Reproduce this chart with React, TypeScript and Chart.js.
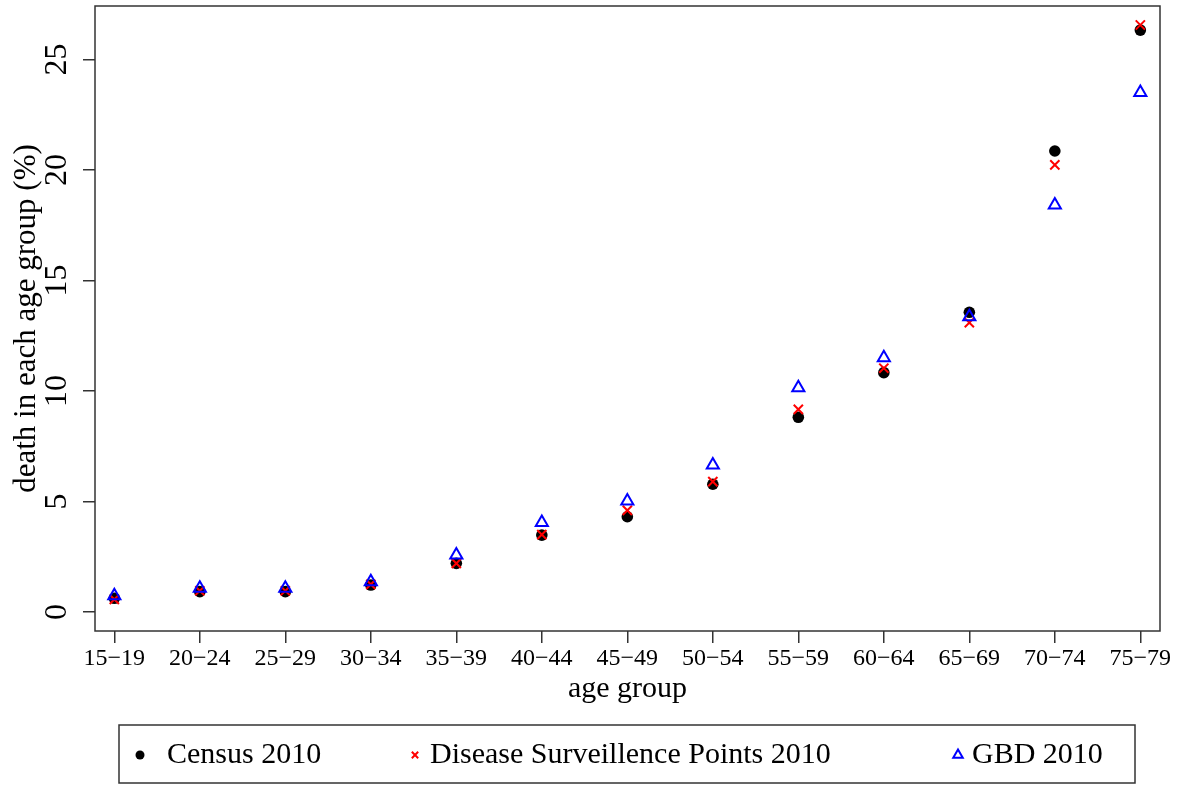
import React, { useEffect, useRef } from "react";
import { Chart, registerables } from "chart.js";
import { drawPoint } from "chart.js/helpers";

Chart.register(...registerables);

const categories = ["15−19", "20−24", "25−29", "30−34", "35−39", "40−44", "45−49", "50−54", "55−59", "60−64", "65−69", "70−74", "75−79"];
const census2010 = [0.62, 0.92, 0.92, 1.22, 2.2, 3.48, 4.31, 5.78, 8.81, 10.83, 13.56, 20.86, 26.33];
const dsp2010 = [0.57, 0.96, 0.96, 1.25, 2.2, 3.5, 4.6, 5.9, 9.17, 11.03, 13.09, 20.23, 26.56];
const gbd2010 = [0.74, 1.07, 1.07, 1.37, 2.58, 4.05, 5.02, 6.65, 10.15, 11.5, 13.36, 18.42, 23.51];
const yTickValues = [0, 5, 10, 15, 20, 25];
const seriesNames = ["Census 2010", "Disease Surveillence Points 2010", "GBD 2010"];
const xTitle = "age group";
const yTitle = "death in each age group (%)";

const FONT = '"Liberation Serif", "Times New Roman", serif';

const frameColor = "#333";

const boxPlugin = {
  id: "rbox",
  afterDraw(chart: any) {
    const { ctx, chartArea } = chart;
    ctx.save();
    ctx.strokeStyle = frameColor;
    ctx.lineWidth = 1.5;
    ctx.strokeRect(chartArea.left, chartArea.top, chartArea.right - chartArea.left, chartArea.bottom - chartArea.top);
    ctx.restore();
  },
};

const legendPlugin = {
  id: "rlegend",
  afterDraw(chart: any) {
    const { ctx } = chart;
    const box = { left: 119, top: 725, right: 1135, bottom: 783 };
    const markerX = [140, 415, 958];
    const textX = [167, 430, 972];
    const markerY = 755;
    const baseY = 763;
    const markerSizes = [4.5, 4.5, 5.5];
    ctx.save();
    ctx.strokeStyle = frameColor;
    ctx.lineWidth = 1.5;
    ctx.strokeRect(box.left, box.top, box.right - box.left, box.bottom - box.top);
    chart.data.datasets.forEach((ds: any) => {
      const k = seriesNames.indexOf(ds.label);
      ctx.save();
      ctx.fillStyle = ds.backgroundColor;
      ctx.strokeStyle = ds.borderColor;
      ctx.lineWidth = ds.borderWidth;
      drawPoint(ctx, { pointStyle: ds.pointStyle, radius: markerSizes[k], borderWidth: ds.borderWidth, rotation: 0 } as any, markerX[k], markerY);
      ctx.restore();
      ctx.fillStyle = "#000";
      ctx.font = `30px ${FONT}`;
      ctx.textBaseline = "alphabetic";
      ctx.textAlign = "left";
      ctx.fillText(ds.label, textX[k], baseY);
    });
    ctx.restore();
  },
};

export default function App() {
  const ref = useRef<HTMLCanvasElement | null>(null);
  useEffect(() => {
    if (!ref.current) return;
    const toPts = (arr: number[]) => arr.map((v, i) => ({ x: i, y: v }));
    const chart = new Chart(ref.current, {
      type: "scatter",
      data: {
        datasets: [
          {
            label: seriesNames[0],
            data: toPts(census2010),
            pointStyle: "circle",
            pointRadius: 5.8,
            pointHoverRadius: 5.8,
            backgroundColor: "#000",
            borderColor: "#000",
            borderWidth: 0,
            order: 3,
          },
          {
            label: seriesNames[1],
            data: toPts(dsp2010),
            pointStyle: "crossRot",
            pointRadius: 6.5,
            pointHoverRadius: 6.5,
            backgroundColor: "#ff0000",
            borderColor: "#ff0000",
            borderWidth: 2,
            order: 2,
          },
          {
            label: seriesNames[2],
            data: toPts(gbd2010),
            pointStyle: "triangle",
            pointRadius: 7,
            pointHoverRadius: 7,
            backgroundColor: "rgba(0,0,0,0)",
            borderColor: "#0000ff",
            borderWidth: 2,
            order: 1,
          },
        ],
      },
      options: {
        animation: false,
        responsive: false,
        devicePixelRatio: 1,
        layout: { autoPadding: false, padding: { top: 6, right: 24, left: 0, bottom: 0 } },
        plugins: { legend: { display: false }, tooltip: { enabled: false } },
        events: [],
        scales: {
          x: {
            type: "linear",
            min: -0.226,
            max: 12.23,
            afterBuildTicks: (scale: any) => {
              scale.ticks = categories.map((_, i) => ({ value: i }));
            },
            afterFit: (scale: any) => {
              scale.height = 154;
              scale.paddingLeft = 0;
              scale.paddingRight = 0;
            },
            ticks: {
              autoSkip: false,
              maxRotation: 0,
              minRotation: 0,
              padding: 1,
              color: "#000",
              font: { family: FONT, size: 24 },
              callback: (v: any) => categories[Math.round(Number(v))] ?? "",
            },
            grid: {
              drawOnChartArea: false,
              drawTicks: true,
              tickLength: 12,
              color: frameColor,
              lineWidth: 1.5,
            },
            border: { display: false },
            title: {
              display: true,
              text: xTitle,
              color: "#000",
              font: { family: FONT, size: 30 },
              padding: { top: 0, bottom: 78 },
            },
          },
          y: {
            type: "linear",
            min: -0.86,
            max: 27.42,
            afterBuildTicks: (scale: any) => {
              scale.ticks = yTickValues.map((v) => ({ value: v }));
            },
            afterFit: (scale: any) => {
              scale.width = 95;
              scale.paddingTop = 0;
              scale.paddingBottom = 0;
            },
            ticks: {
              minRotation: 90,
              maxRotation: 90,
              crossAlign: "center",
              padding: 9,
              color: "#000",
              font: { family: FONT, size: 32 },
              callback: (v: any) => String(v),
            },
            grid: {
              drawOnChartArea: false,
              drawTicks: true,
              tickLength: 12,
              color: frameColor,
              lineWidth: 1.5,
            },
            border: { display: false },
            title: {
              display: true,
              text: yTitle,
              color: "#000",
              font: { family: FONT, size: 31 },
              padding: { top: 8, bottom: 0 },
            },
          },
        },
      } as any,
      plugins: [boxPlugin, legendPlugin],
    });
    return () => chart.destroy();
  }, []);
  return (
    <div style={{ position: "fixed", left: 0, top: 0, width: 1184, height: 785, background: "#fff" }}>
      <canvas ref={ref} width={1184} height={785} style={{ display: "block" }} />
    </div>
  );
}
